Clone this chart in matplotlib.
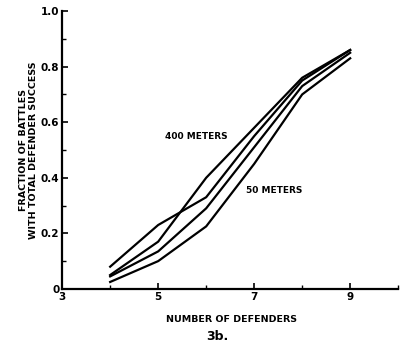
import matplotlib
matplotlib.use("Agg")
import matplotlib.pyplot as plt
from matplotlib.ticker import MultipleLocator

defenders = [4, 5, 6, 7, 8, 9]
line_a = [0.08, 0.23, 0.33, 0.55, 0.75, 0.86]
line_b = [0.05, 0.17, 0.40, 0.58, 0.76, 0.86]
line_c = [0.045, 0.135, 0.29, 0.51, 0.73, 0.85]
line_50m = [0.025, 0.10, 0.225, 0.45, 0.70, 0.83]
x_ticks = [3, 5, 7, 9]
y_ticks = [0, 0.2, 0.4, 0.6, 0.8, 1.0]
y_tick_labels = ["0", "0.2", "0.4", "0.6", "0.8", "1.0"]

fig = plt.figure(figsize=(4.01, 3.46), dpi=100)
ax = fig.add_axes([0.155, 0.165, 0.838, 0.803])

for s in [line_a, line_b, line_c, line_50m]:
    ax.plot(defenders, s, color="black", lw=1.6, solid_joinstyle="round")

ax.set_xlim(3, 10)
ax.set_ylim(0, 1.0)
for sp in ["top", "right"]:
    ax.spines[sp].set_visible(False)
for sp in ["left", "bottom"]:
    ax.spines[sp].set_linewidth(1.6)

ax.set_xticks(x_ticks)
ax.set_xticklabels([str(v) for v in x_ticks])
ax.xaxis.set_minor_locator(MultipleLocator(1))
ax.set_yticks(y_ticks)
ax.set_yticklabels(y_tick_labels)
ax.yaxis.set_minor_locator(MultipleLocator(0.1))
ax.tick_params(axis="both", which="major", direction="in", length=4, width=1.2,
               labelsize=7.5, pad=2)
ax.tick_params(axis="both", which="minor", direction="in", length=3, width=1.0)
for lab in ax.get_xticklabels() + ax.get_yticklabels():
    lab.set_fontweight("bold")

fig.text(0.578, 0.078, "NUMBER OF DEFENDERS", fontsize=6.8, fontweight="bold",
         ha="center", va="center")
ax.set_ylabel("FRACTION OF BATTLES\nWITH TOTAL DEFENDER SUCCESS", fontsize=6.8,
              fontweight="bold", labelpad=2, linespacing=1.1)

ax.text(5.15, 0.547, "400 METERS", fontsize=6.5, fontweight="bold", va="center", ha="left")
ax.text(6.83, 0.353, "50 METERS", fontsize=6.5, fontweight="bold", va="center", ha="left")

fig.text(0.541, 0.027, "3b.", fontsize=9, fontweight="bold", ha="center", va="center")

fig.savefig("out.png", dpi=100)
